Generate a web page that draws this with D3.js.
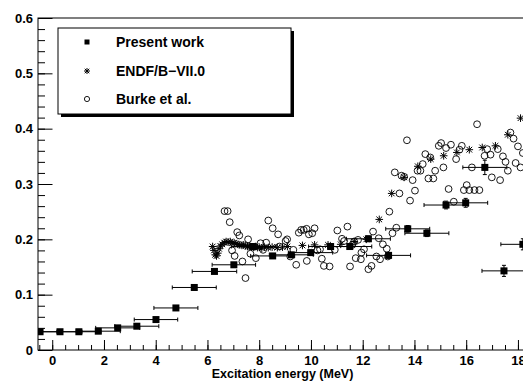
<!DOCTYPE html>
<html>
<head>
<meta charset="utf-8">
<script src="https://cdn.jsdelivr.net/npm/d3@7"></script>
<style>
  body { margin: 0; background: #fff; }
  svg { display: block; font-family: "Liberation Sans", Arial, sans-serif; font-weight: bold; }
</style>
</head>
<body>
<div id="chart"></div>
<script>
// Present work: excitation energy (MeV), value, x error, y error
const presentX = [-0.47, 0.30, 1.03, 1.78, 2.53, 3.27, 4.01, 4.78, 5.49, 6.27, 7.02, 7.77, 8.52,
  9.24, 9.99, 10.76, 11.50, 12.22, 13.00, 13.74, 14.48, 15.22, 15.98, 16.72, 17.46, 18.19];
const presentY = [0.033, 0.033, 0.033, 0.034, 0.040, 0.043, 0.055, 0.076, 0.113, 0.142, 0.154, 0.187, 0.170,
  0.172, 0.176, 0.187, 0.187, 0.201, 0.171, 0.219, 0.211, 0.262, 0.266, 0.330, 0.143, 0.191];
const presentXErr = [0.85, 0.85, 0.85, 0.85, 0.85, 0.85, 0.84, 0.85, 0.85, 0.86, 0.84, 0.85, 0.85,
  0.85, 0.85, 0.85, 0.85, 0.85, 0.85, 0.85, 0.85, 0.85, 0.85, 0.85, 0.85, 0.85];
const presentYErr = [0.002, 0.002, 0.002, 0.002, 0.002, 0.002, 0.003, 0.003, 0.004, 0.004, 0.004, 0.004, 0.004,
  0.004, 0.004, 0.005, 0.005, 0.005, 0.005, 0.006, 0.006, 0.007, 0.008, 0.013, 0.010, 0.010];

// ENDF/B-VII.0
const endfX = [6.20, 6.25, 6.30, 6.35, 6.40, 6.45, 6.50, 6.57, 6.65, 6.72, 6.80, 6.88, 6.95, 7.03, 7.10,
  7.18, 7.25, 7.33, 7.40, 7.48, 7.55, 7.63, 7.70, 7.78, 7.85, 7.93, 8.00, 8.10, 8.20, 8.35, 8.50,
  8.70, 8.90, 9.09, 9.67, 10.14, 10.66, 11.15, 11.67, 12.14, 12.64, 13.12, 13.60, 14.13, 14.63,
  15.13, 15.64, 16.12, 16.62, 17.13, 17.61, 18.10];
const endfY = [0.187, 0.180, 0.172, 0.170, 0.175, 0.183, 0.188, 0.191, 0.194, 0.196, 0.195, 0.196, 0.193,
  0.194, 0.192, 0.191, 0.190, 0.189, 0.190, 0.188, 0.187, 0.188, 0.186, 0.186, 0.187, 0.185, 0.186,
  0.184, 0.186, 0.185, 0.186, 0.185, 0.186, 0.187, 0.189, 0.190, 0.190, 0.191, 0.196, 0.200, 0.236,
  0.283, 0.312, 0.332, 0.345, 0.351, 0.357, 0.362, 0.366, 0.369, 0.389, 0.419];

// Burke et al.
const burkeX = [6.66, 6.78, 6.86, 6.95, 7.05, 7.15, 7.23, 7.35, 7.47, 7.57, 7.66, 7.87, 8.05, 8.15, 8.27,
  8.35, 8.52, 8.73, 8.78, 9.02, 9.08, 9.20, 9.32, 9.43, 9.53, 9.62, 9.72, 9.83, 9.84, 9.92, 10.05,
  10.14, 10.25, 10.35, 10.42, 10.50, 10.72, 10.92, 11.02, 11.20, 11.28, 11.41, 11.51, 11.60, 11.67,
  11.73, 11.82, 11.93, 11.95, 12.05, 12.22, 12.34, 12.40, 12.53, 12.62, 12.67, 12.78, 12.93, 12.97,
  13.03, 13.15, 13.24, 13.30, 13.42, 13.50, 13.60, 13.71, 13.83, 13.93, 14.02, 14.12, 14.23, 14.32,
  14.42, 14.54, 14.61, 14.73, 14.80, 14.94, 15.03, 15.12, 15.22, 15.32, 15.41, 15.52, 15.61, 15.74,
  15.83, 15.91, 16.02, 16.12, 16.22, 16.32, 16.42, 16.51, 16.71, 16.81, 16.94, 16.99, 17.22, 17.31,
  17.42, 17.52, 17.61, 17.71, 17.83, 17.91, 18.00, 18.10, 18.19];
const burkeY = [0.251, 0.251, 0.231, 0.180, 0.170, 0.213, 0.207, 0.160, 0.130, 0.200, 0.174, 0.166, 0.193,
  0.181, 0.194, 0.234, 0.220, 0.209, 0.187, 0.197, 0.200, 0.169, 0.181, 0.154, 0.212, 0.217, 0.217,
  0.219, 0.161, 0.209, 0.211, 0.220, 0.180, 0.182, 0.165, 0.152, 0.151, 0.181, 0.216, 0.201, 0.197,
  0.223, 0.151, 0.190, 0.196, 0.166, 0.199, 0.164, 0.176, 0.182, 0.146, 0.152, 0.214, 0.169, 0.202,
  0.164, 0.191, 0.183, 0.169, 0.250, 0.211, 0.321, 0.221, 0.283, 0.315, 0.313, 0.379, 0.270, 0.307,
  0.288, 0.324, 0.324, 0.336, 0.354, 0.310, 0.348, 0.310, 0.324, 0.369, 0.374, 0.330, 0.365, 0.291,
  0.371, 0.268, 0.345, 0.362, 0.369, 0.289, 0.298, 0.289, 0.330, 0.289, 0.408, 0.289, 0.351, 0.363,
  0.353, 0.312, 0.363, 0.307, 0.350, 0.340, 0.324, 0.393, 0.382, 0.338, 0.368, 0.330, 0.356];

const xMajor = [0, 2, 4, 6, 8, 10, 12, 14, 16, 18];
const yMajor = [0, 0.1, 0.2, 0.3, 0.4, 0.5, 0.6];
const legendLabels = ['Present work', 'ENDF/B\u2212VII.0', 'Burke et al.'];
const xTitle = 'Excitation energy (MeV)';

const width = 523;
const height = 383;
const frame = { left: 38, right: 527, top: 18, bottom: 350 };

const svg = d3.select('#chart').append('svg')
  .attr('width', width)
  .attr('height', height);

const x = d3.scaleLinear().domain([-0.55, 18.35]).range([frame.left, frame.right]);
const y = d3.scaleLinear().domain([0, 0.6]).range([frame.bottom, frame.top]);

svg.append('defs').append('clipPath').attr('id', 'clip')
  .append('rect')
  .attr('x', frame.left).attr('y', frame.top)
  .attr('width', frame.right - frame.left)
  .attr('height', frame.bottom - frame.top);

// frame
svg.append('rect')
  .attr('x', frame.left).attr('y', frame.top)
  .attr('width', frame.right - frame.left)
  .attr('height', frame.bottom - frame.top)
  .attr('fill', 'none')
  .attr('stroke', '#000');

// x axis: ticks point up, into the frame
const xMinor = d3.range(-0.5, 18.51, 0.5);
svg.append('g')
  .attr('transform', 'translate(0,' + frame.bottom + ')')
  .call(d3.axisBottom(x).tickValues(xMinor).tickSize(-5).tickFormat(''))
  .call((g) => g.select('.domain').remove());
const xAxis = svg.append('g')
  .attr('transform', 'translate(0,' + frame.bottom + ')')
  .call(d3.axisBottom(x).tickValues(xMajor).tickSize(-10).tickPadding(6).tickFormat(d3.format('d')));
xAxis.select('.domain').remove();
xAxis.selectAll('text').attr('font-size', 13).attr('font-family', null).attr('fill', '#000');

// y axis: ticks point right
const yMinor = d3.range(0, 0.601, 0.02);
svg.append('g')
  .attr('transform', 'translate(' + frame.left + ',0)')
  .call(d3.axisLeft(y).tickValues(yMinor).tickSize(-7).tickFormat(''))
  .call((g) => g.select('.domain').remove());
const yAxis = svg.append('g')
  .attr('transform', 'translate(' + frame.left + ',0)')
  .call(d3.axisLeft(y).tickValues(yMajor).tickSize(-14.5).tickPadding(5)
    .tickFormat((d) => (d === 0 ? '0' : d3.format('.1f')(d))));
yAxis.select('.domain').remove();
yAxis.selectAll('text').attr('font-size', 13).attr('font-family', null).attr('fill', '#000');
svg.selectAll('.tick line').attr('stroke', '#000');

svg.append('text')
  .attr('x', (frame.left + frame.right) / 2)
  .attr('y', 378)
  .attr('text-anchor', 'middle')
  .attr('font-size', 12.5)
  .text(xTitle);

const plot = svg.append('g').attr('clip-path', 'url(#clip)');

// marker helpers
function star(sel, s) {
  const p = 'M' + -s + ',0H' + s + 'M0,' + -s + 'V' + s +
    'M' + -s * 0.75 + ',' + -s * 0.75 + 'L' + s * 0.75 + ',' + s * 0.75 +
    'M' + -s * 0.75 + ',' + s * 0.75 + 'L' + s * 0.75 + ',' + -s * 0.75;
  sel.append('path').attr('d', p).attr('stroke', '#000').attr('stroke-width', 1).attr('fill', 'none');
}

// Burke et al. open circles
plot.selectAll('circle.burke')
  .data(d3.range(burkeX.length))
  .enter()
  .append('circle')
  .attr('class', 'burke')
  .attr('cx', (i) => x(burkeX[i]))
  .attr('cy', (i) => y(burkeY[i]))
  .attr('r', 3.4)
  .attr('fill', 'none')
  .attr('stroke', '#000')
  .attr('stroke-width', 0.9);

// ENDF stars
plot.selectAll('g.endf')
  .data(d3.range(endfX.length))
  .enter()
  .append('g')
  .attr('class', 'endf')
  .attr('transform', (i) => 'translate(' + x(endfX[i]) + ',' + y(endfY[i]) + ')')
  .each(function () { star(d3.select(this), 3.8); });

// present work with error bars
const pw = plot.selectAll('g.pw')
  .data(d3.range(presentX.length))
  .enter()
  .append('g')
  .attr('class', 'pw');
pw.append('path')
  .attr('d', (i) => {
    const x0 = x(presentX[i] - presentXErr[i]);
    const x1 = x(presentX[i] + presentXErr[i]);
    const yc = y(presentY[i]);
    const y0 = y(presentY[i] - presentYErr[i]);
    const y1 = y(presentY[i] + presentYErr[i]);
    const xc = x(presentX[i]);
    return 'M' + x0 + ',' + yc + 'H' + x1 +
      'M' + x0 + ',' + (yc - 2) + 'V' + (yc + 2) +
      'M' + x1 + ',' + (yc - 2) + 'V' + (yc + 2) +
      'M' + xc + ',' + y0 + 'V' + y1 +
      'M' + (xc - 2) + ',' + y0 + 'H' + (xc + 2) +
      'M' + (xc - 2) + ',' + y1 + 'H' + (xc + 2);
  })
  .attr('stroke', '#000')
  .attr('stroke-width', 1)
  .attr('fill', 'none');
pw.append('rect')
  .attr('x', (i) => x(presentX[i]) - 3.5)
  .attr('y', (i) => y(presentY[i]) - 3.5)
  .attr('width', 7)
  .attr('height', 7)
  .attr('fill', '#000');

// legend
const lg = { x: 58, y: 28, w: 233, h: 86 };
const legend = svg.append('g');
legend.append('rect')
  .attr('x', lg.x + 3).attr('y', lg.y + 3)
  .attr('width', lg.w).attr('height', lg.h)
  .attr('fill', '#000');
legend.append('rect')
  .attr('x', lg.x).attr('y', lg.y)
  .attr('width', lg.w).attr('height', lg.h)
  .attr('fill', '#fff')
  .attr('stroke', '#000');

const rowY = [42, 71, 99];
legend.append('rect').attr('x', 87 - 2.5).attr('y', rowY[0] - 2.5).attr('width', 5).attr('height', 5).attr('fill', '#000');
star(legend.append('g').attr('transform', 'translate(87,' + rowY[1] + ')'), 3);
legend.append('circle').attr('cx', 87).attr('cy', rowY[2]).attr('r', 2.6)
  .attr('fill', 'none').attr('stroke', '#000').attr('stroke-width', 0.9);

legend.selectAll('text')
  .data(legendLabels)
  .enter()
  .append('text')
  .attr('x', 116)
  .attr('y', (d, i) => rowY[i] + 5)
  .attr('font-size', 14)
  .text((d) => d);
</script>
</body>
</html>
